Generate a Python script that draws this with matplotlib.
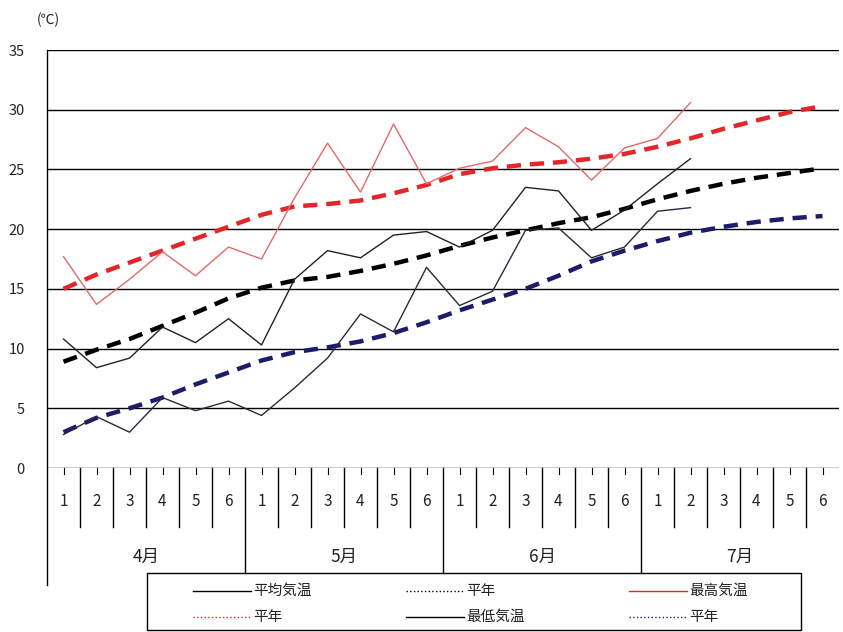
import matplotlib
matplotlib.use('Agg')
import matplotlib.pyplot as plt
from matplotlib.lines import Line2D
from matplotlib.patches import Rectangle

plt.rcParams['font.family'] = ['Noto Sans CJK JP', 'DejaVu Sans']

# pentads (半旬) 1-6 for each month
months = ['4月', '5月', '6月', '7月']
pentads = ['1', '2', '3', '4', '5', '6']

# observed values (up to 7月 2半旬)
mean_temp = [10.8, 8.4, 9.2, 11.8, 10.5, 12.5, 10.3, 15.8, 18.2, 17.6,
             19.5, 19.8, 18.5, 19.9, 23.5, 23.2, 19.9, 21.6, 23.8, 25.9]
max_temp = [17.7, 13.7, 15.8, 18.1, 16.1, 18.5, 17.5, 22.6, 27.2, 23.1,
            28.8, 23.8, 25.1, 25.7, 28.5, 26.9, 24.1, 26.8, 27.6, 30.6]
min_temp = [2.8, 4.3, 3.0, 5.9, 4.8, 5.6, 4.4, 6.7, 9.2, 12.9,
            11.4, 16.8, 13.6, 14.8, 19.9, 20.1, 17.6, 18.5, 21.5, 21.8]

# normals (平年)
mean_norm = [8.9, 9.9, 10.8, 11.9, 13.0, 14.2, 15.1, 15.7, 16.0, 16.5, 17.1, 17.8,
             18.6, 19.3, 19.9, 20.5, 21.0, 21.7, 22.5, 23.2, 23.8, 24.3, 24.7, 25.1]
max_norm = [15.0, 16.2, 17.2, 18.2, 19.2, 20.2, 21.2, 21.9, 22.1, 22.4, 23.0, 23.7,
            24.6, 25.1, 25.4, 25.6, 25.9, 26.3, 26.9, 27.6, 28.4, 29.1, 29.8, 30.3]
min_norm = [3.0, 4.2, 5.0, 5.9, 7.0, 8.0, 9.0, 9.7, 10.1, 10.6, 11.3, 12.2,
            13.2, 14.1, 15.0, 16.1, 17.3, 18.2, 19.0, 19.7, 20.2, 20.6, 20.9, 21.1]

yticks = [0, 5, 10, 15, 20, 25, 30, 35]

n = len(months) * len(pentads)
xs = [i + 0.5 for i in range(n)]

fig = plt.figure(figsize=(8.43, 6.32), dpi=100)
ax = fig.add_axes([47 / 843, 1 - 468 / 632, 792 / 843, 418 / 632])
ax.set_xlim(0, n)
ax.set_ylim(0, 35)

for y in yticks:
    ax.axhline(y, color='black', lw=1.0, zorder=1)

dash = (0, (3.2, 2.0))
ax.plot(xs, max_norm, color='#e3262a', lw=3.2, ls=dash, zorder=3)
ax.plot(xs, mean_norm, color='black', lw=3.2, ls=dash, zorder=3)
ax.plot(xs, min_norm, color='#1c1c6a', lw=3.2, ls=dash, zorder=3)
ax.plot(xs[:len(max_temp)], max_temp, color='#e06a6a', lw=1.0, zorder=4)
ax.plot(xs[:len(mean_temp)], mean_temp, color='#222222', lw=1.0, zorder=4)
ax.plot(xs[:len(min_temp)], min_temp, color='#2a2a3a', lw=1.0, zorder=4)

for s in ax.spines.values():
    s.set_visible(False)
ax.set_xticks([])
ax.set_yticks(yticks)
ax.set_yticklabels([str(v) for v in yticks], fontsize=10.5, color='#222222')
ax.tick_params(axis='y', length=0, pad=16)

# category table below the plot
tr = ax.get_xaxis_transform()
ax.plot([0, 0], [1, -0.280], color='black', lw=1.0, transform=tr, clip_on=False)
for i in range(1, n):
    if i % 6 == 0:
        ax.plot([i, i], [0, -0.251], color='black', lw=1.0, transform=tr, clip_on=False)
    else:
        ax.plot([i, i], [0, -0.141], color='black', lw=1.0, transform=tr, clip_on=False)
for i in range(n):
    ax.plot([i + 0.5, i + 0.5], [0, -0.015], color='black', lw=0.8, transform=tr, clip_on=False)
    ax.text(i + 0.5, -0.081, pentads[i % 6], transform=tr, ha='center', va='center',
            fontsize=11, color='#222222')
for m, name in enumerate(months):
    ax.text(m * 6 + 3, -0.213, name, transform=tr, ha='center', va='center',
            fontsize=12.5, color='#222222')

fig.text(37 / 843, 1 - 20 / 632, '(℃)', fontsize=10, ha='left', va='center', color='#222222')

# legend box drawn by hand to match the spreadsheet layout
W, H = 843.0, 632.0
fig.patches.append(Rectangle((147 / W, 1 - 630 / H), 654 / W, 57 / H, transform=fig.transFigure,
                             fill=False, edgecolor='black', lw=1.0))
leg_items = [
    ('平均気温', 'black', '-', 193, 591),
    ('平年', 'black', ':', 406, 591),
    ('最高気温', '#e3262a', '-', 629, 591),
    ('平年', '#e3262a', ':', 193, 617),
    ('最低気温', 'black', '-', 406, 617),
    ('平年', '#1c1c6a', ':', 629, 617),
]
for label, col, ls, x0, y0 in leg_items:
    fig.add_artist(Line2D([x0 / W, (x0 + 58) / W], [1 - y0 / H, 1 - y0 / H],
                          color=col, ls=ls, lw=1.0, transform=fig.transFigure))
    fig.text((x0 + 60) / W, 1 - y0 / H, label, fontsize=10.5, ha='left', va='center',
             color='#222222')

fig.savefig('out.png', dpi=100)
